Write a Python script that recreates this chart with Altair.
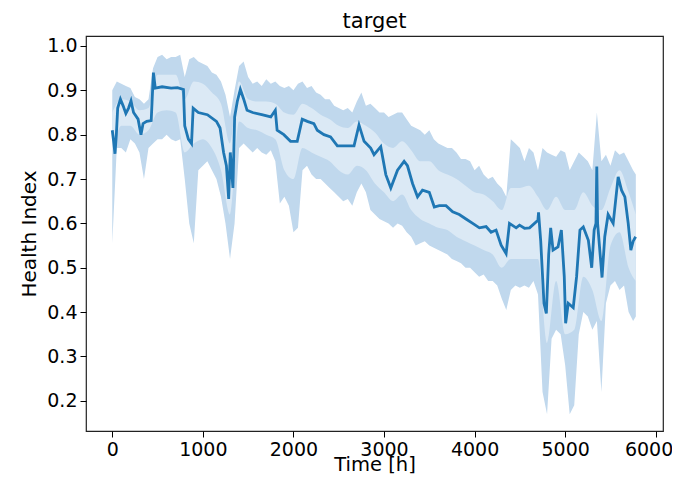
import altair as alt
import pandas as pd

# ---- mean health index ----
mean_t = [0, 15, 30, 45, 60, 90, 120, 150, 180, 207, 235, 285, 317, 340, 380, 430, 454, 475,
          550, 650, 720, 786, 800, 840, 875, 893, 950, 1050, 1150, 1190, 1229, 1260, 1285,
          1303, 1332, 1351, 1380, 1414, 1451, 1488, 1550, 1650, 1750, 1800, 1820, 1894, 1968,
          2042, 2097, 2153, 2226, 2263, 2337, 2410, 2485, 2558, 2669, 2724, 2780, 2853, 2890,
          2964, 3020, 3075, 3149, 3222, 3259, 3315, 3370, 3425, 3500, 3555, 3610, 3684, 3758,
          3831, 3905, 3979, 4053, 4127, 4182, 4237, 4293, 4348, 4385, 4459, 4496, 4551, 4607,
          4699, 4706, 4730, 4766, 4792, 4818, 4840, 4866, 4921, 4958, 4990, 5005, 5034, 5089,
          5126, 5163, 5200, 5256, 5293, 5320, 5340, 5349, 5358, 5407, 5437, 5474, 5530, 5585,
          5622, 5659, 5696, 5725, 5751, 5778]
mean_v = [0.81, 0.785, 0.757, 0.80, 0.86, 0.88, 0.865, 0.848, 0.86, 0.876, 0.85, 0.835, 0.80,
          0.825, 0.83, 0.832, 0.94, 0.905, 0.908, 0.905, 0.906, 0.902, 0.82, 0.79, 0.78, 0.86,
          0.85, 0.845, 0.83, 0.815, 0.76, 0.73, 0.655, 0.76, 0.68, 0.84, 0.875, 0.902, 0.88,
          0.855, 0.85, 0.845, 0.84, 0.855, 0.81, 0.80, 0.785, 0.785, 0.835, 0.83, 0.825, 0.81,
          0.80, 0.795, 0.775, 0.775, 0.775, 0.822, 0.785, 0.77, 0.755, 0.773, 0.71, 0.68, 0.72,
          0.74, 0.73, 0.69, 0.66, 0.675, 0.67, 0.637, 0.64, 0.64, 0.626, 0.62, 0.61, 0.60, 0.59,
          0.593, 0.58, 0.585, 0.551, 0.532, 0.60, 0.59, 0.596, 0.589, 0.59, 0.607, 0.625, 0.56,
          0.42, 0.397, 0.53, 0.59, 0.54, 0.547, 0.585, 0.48, 0.375, 0.42, 0.41, 0.48, 0.585,
          0.592, 0.562, 0.50, 0.585, 0.60, 0.728, 0.60, 0.478, 0.57, 0.62, 0.60, 0.705, 0.675,
          0.66, 0.60, 0.54, 0.56, 0.57]

# ---- outer band (spiky envelope), every 50 h ----
outer_t = list(range(0, 5800, 50)) + [5780]
upper_out = [0.90, 0.92, 0.915, 0.91, 0.905, 0.885, 0.88, 0.87, 0.88, 0.95,   # 0-450
             0.975, 0.98, 0.97, 0.975, 0.975, 0.98, 0.93, 0.97, 0.975, 0.965,  # 500-950
             0.96, 0.955, 0.94, 0.935, 0.92, 0.89, 0.84, 0.90, 0.955, 0.965,   # 1000-1450
             0.93, 0.915, 0.92, 0.91, 0.925, 0.915, 0.92, 0.91, 0.905, 0.91,   # 1500-1950
             0.90, 0.915, 0.92, 0.905, 0.91, 0.895, 0.89, 0.88, 0.88, 0.865,   # 2000-2450
             0.86, 0.855, 0.86, 0.85, 0.875, 0.895, 0.865, 0.87, 0.86, 0.85,   # 2500-2950
             0.85, 0.84, 0.845, 0.85, 0.85, 0.835, 0.82, 0.815, 0.81, 0.80,    # 3000-3450
             0.81, 0.79, 0.78, 0.775, 0.77, 0.77, 0.76, 0.745, 0.745, 0.74,    # 3500-3950
             0.72, 0.73, 0.71, 0.70, 0.705, 0.69, 0.68, 0.66, 0.79, 0.78,      # 4000-4450
             0.77, 0.74, 0.77, 0.76, 0.72, 0.77, 0.76, 0.755, 0.75, 0.765,     # 4500-4950
             0.76, 0.72, 0.74, 0.76, 0.75, 0.74, 0.72, 0.85, 0.74, 0.755,      # 5000-5450
             0.73, 0.765, 0.755, 0.76, 0.74, 0.72, 0.71]                      # 5500-5780
lower_out = [0.555, 0.77, 0.77, 0.76, 0.79, 0.78, 0.76, 0.70, 0.77, 0.78,     # 0-450
             0.79, 0.79, 0.80, 0.79, 0.785, 0.79, 0.70, 0.60, 0.555, 0.72,    # 500-950
             0.73, 0.74, 0.72, 0.70, 0.66, 0.60, 0.52, 0.60, 0.77, 0.78,      # 1000-1450
             0.77, 0.76, 0.77, 0.76, 0.755, 0.765, 0.74, 0.645, 0.66, 0.64,   # 1500-1950
             0.58, 0.59, 0.72, 0.73, 0.71, 0.70, 0.70, 0.69, 0.68, 0.67,      # 2000-2450
             0.66, 0.65, 0.655, 0.64, 0.67, 0.69, 0.67, 0.63, 0.62, 0.61,     # 2500-2950
             0.605, 0.60, 0.59, 0.60, 0.595, 0.58, 0.57, 0.55, 0.555, 0.56,   # 3000-3450
             0.55, 0.545, 0.54, 0.535, 0.53, 0.52, 0.515, 0.51, 0.50, 0.50,   # 3500-3950
             0.49, 0.48, 0.485, 0.47, 0.47, 0.46, 0.43, 0.405, 0.45, 0.46,    # 4000-4450
             0.455, 0.46, 0.455, 0.47, 0.44, 0.22, 0.17, 0.34, 0.36, 0.35,    # 4500-4950
             0.28, 0.17, 0.19, 0.35, 0.40, 0.39, 0.36, 0.38, 0.22, 0.42,      # 5000-5450
             0.46, 0.47, 0.45, 0.46, 0.40, 0.38, 0.39]                        # 5500-5780

# ---- inner (lighter) part of the band, every 100 h ----
inner_t = list(range(0, 5800, 100)) + [5780]
upper_in = [0.85, 0.88, 0.875, 0.855, 0.86, 0.935, 0.935, 0.935, 0.88, 0.92,
            0.915, 0.895, 0.87, 0.78, 0.92, 0.88, 0.875, 0.875, 0.87, 0.85,
            0.845, 0.87, 0.86, 0.845, 0.835, 0.82, 0.815, 0.83, 0.82, 0.805,
            0.78, 0.77, 0.785, 0.765, 0.74, 0.74, 0.72, 0.71, 0.70, 0.685,
            0.67, 0.665, 0.65, 0.63, 0.68, 0.68, 0.685, 0.66, 0.63, 0.66,
            0.63, 0.63, 0.67, 0.64, 0.63, 0.68, 0.72, 0.67, 0.62]
lower_in = [0.75, 0.82, 0.82, 0.80, 0.81, 0.85, 0.855, 0.85, 0.76, 0.78,
            0.79, 0.77, 0.72, 0.62, 0.83, 0.815, 0.81, 0.80, 0.79, 0.72,
            0.70, 0.77, 0.76, 0.75, 0.74, 0.72, 0.71, 0.73, 0.72, 0.69,
            0.67, 0.65, 0.665, 0.63, 0.61, 0.60, 0.59, 0.585, 0.57, 0.56,
            0.55, 0.54, 0.53, 0.50, 0.52, 0.52, 0.52, 0.52, 0.33, 0.47,
            0.35, 0.36, 0.48, 0.45, 0.38, 0.55, 0.58, 0.50, 0.47]

mean_df = pd.DataFrame({"t": mean_t, "v": mean_v})
outer_df = pd.DataFrame({"t": outer_t, "lo": lower_out, "hi": upper_out})
inner_df = pd.DataFrame({"t": inner_t, "lo": lower_in, "hi": upper_in})

FONT = "DejaVu Sans"
xscale = alt.Scale(domain=[-290, 6080], nice=False, zero=False)
yscale = alt.Scale(domain=[0.132, 1.0225], nice=False, zero=False)
xaxis = alt.Axis(title="Time [h]", values=[0, 1000, 2000, 3000, 4000, 5000, 6000],
                 format="d", grid=False, domain=False, tickSize=6, tickColor="black",
                 labelFontSize=19, labelFont=FONT, labelColor="black", labelPadding=3,
                 labelFlush=8, labelFlushOffset=17,
                 titleFontSize=19.5, titleFont=FONT, titleFontWeight="normal",
                 titleColor="black", titleBaseline="alphabetic", titleY=39)
yaxis = alt.Axis(title="Health Index", values=[0.2, 0.3, 0.4, 0.5, 0.6, 0.7, 0.8, 0.9, 1.0],
                 format=".1f", grid=False, domain=False, tickSize=6, tickColor="black",
                 labelFontSize=19, labelFont=FONT, labelColor="black", labelPadding=3,
                 titleFontSize=20, titleFont=FONT, titleFontWeight="normal",
                 titleColor="black", titlePadding=7)

outer = alt.Chart(outer_df).mark_area(color="#c0d8ed", opacity=1, interpolate="linear").encode(
    x=alt.X("t:Q", scale=xscale, axis=xaxis),
    y=alt.Y("lo:Q", scale=yscale, axis=yaxis),
    y2="hi:Q",
)
inner = alt.Chart(inner_df).mark_area(color="#dbe9f5", opacity=1, interpolate="monotone").encode(
    x=alt.X("t:Q", scale=xscale),
    y=alt.Y("lo:Q", scale=yscale),
    y2="hi:Q",
)
line = alt.Chart(mean_df).mark_line(color="#1f77b4", strokeWidth=2.8).encode(
    x=alt.X("t:Q", scale=xscale),
    y=alt.Y("v:Q", scale=yscale),
)

chart = alt.layer(outer, inner, line).properties(
    width=577, height=395,
    title=alt.TitleParams("target", fontSize=21, font=FONT, fontWeight="normal",
                          color="black", offset=4),
    autosize=alt.AutoSizeParams(type="none"),
    padding={"left": 78, "top": 28, "right": 9, "bottom": 44},
).configure(
    background="white",
    view=alt.ViewConfig(stroke="#222222", strokeWidth=1.2),
)

chart.save("out.html", embed_options={"renderer": "svg", "actions": False})
